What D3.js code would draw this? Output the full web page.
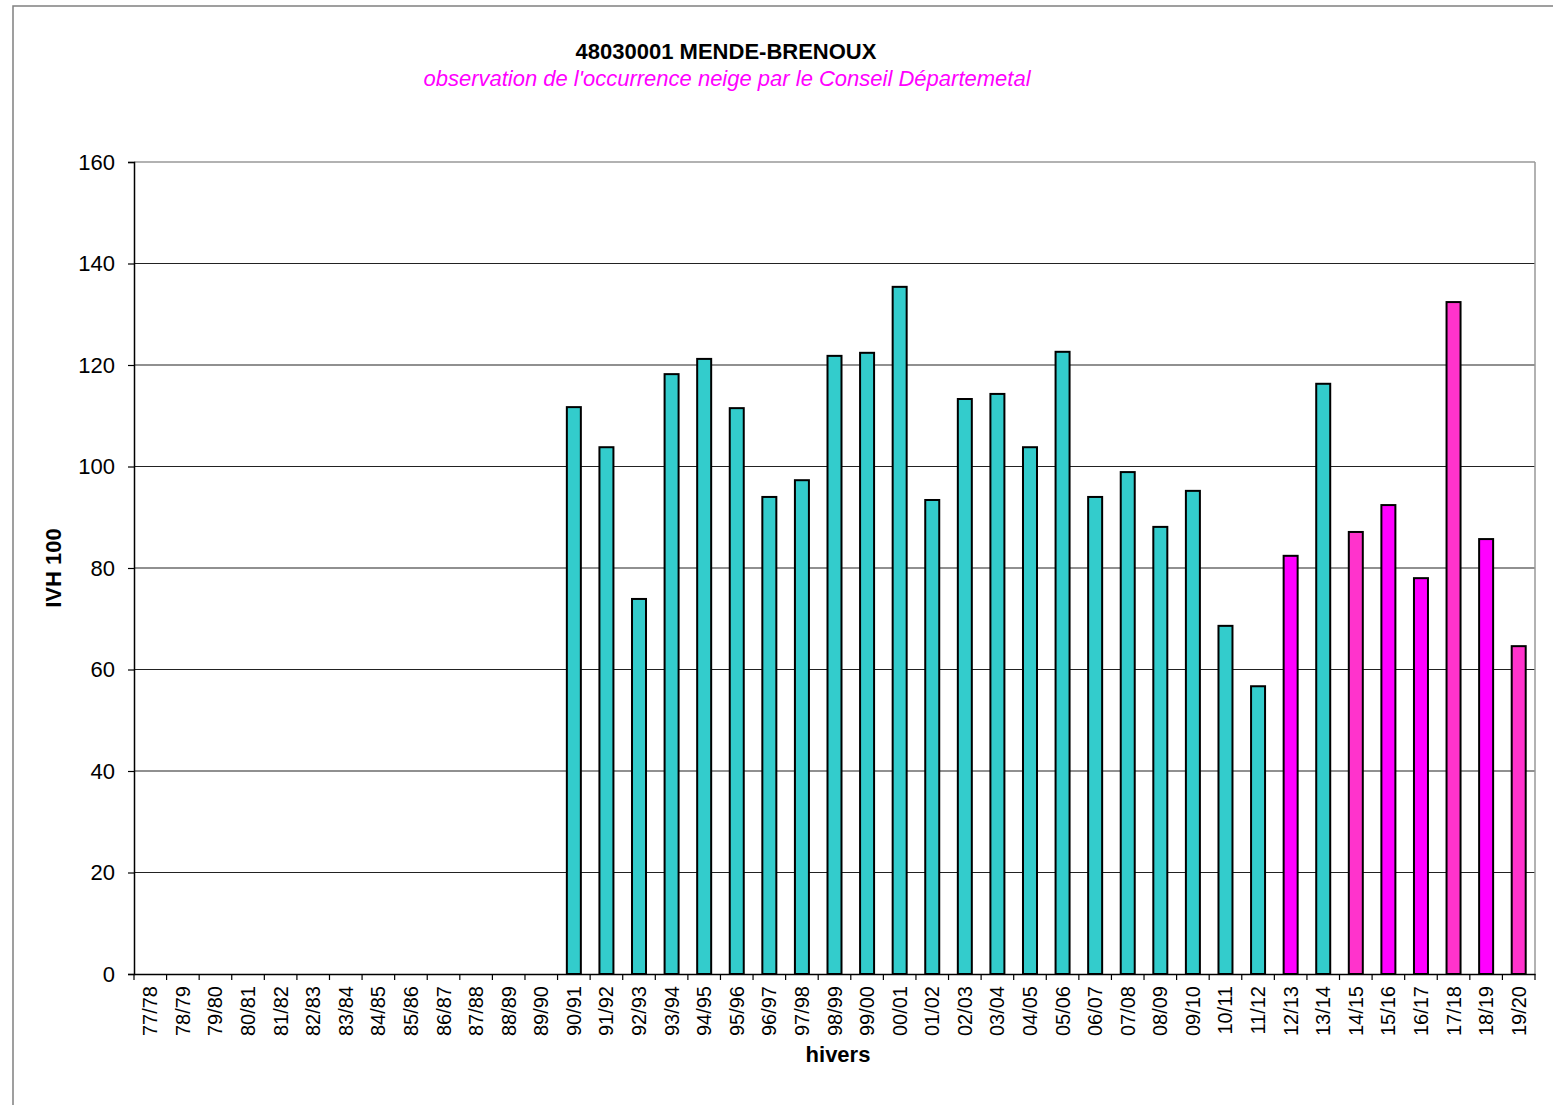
<!DOCTYPE html>
<html><head><meta charset="utf-8">
<script src="https://cdn.jsdelivr.net/npm/d3@7"></script>
<style>body{margin:0;background:#fff}svg{display:block}text{font-family:"Liberation Sans",Arial,sans-serif}</style>
</head><body>
<svg id="c" width="1553" height="1105"></svg>
<script>
const categories = ["77/78","78/79","79/80","80/81","81/82","82/83","83/84","84/85","85/86","86/87","87/88","88/89","89/90","90/91","91/92","92/93","93/94","94/95","95/96","96/97","97/98","98/99","99/00","00/01","01/02","02/03","03/04","04/05","05/06","06/07","07/08","08/09","09/10","10/11","11/12","12/13","13/14","14/15","15/16","16/17","17/18","18/19","19/20"];
const values = [null,null,null,null,null,null,null,null,null,null,null,null,null,111.7,103.8,73.9,118.2,121.2,111.5,94.0,97.3,121.8,122.4,135.4,93.4,113.3,114.3,103.8,122.6,94.0,98.9,88.1,95.2,68.6,56.7,82.4,116.3,87.1,92.4,78.0,132.4,85.7,64.6];
const sourceType = ["","","","","","","","","","","","","","a","a","a","a","a","a","a","a","a","a","a","a","a","a","a","a","a","a","a","a","a","a","b","a","c","b","b","c","b","c"];
const yTicks = [0,20,40,60,80,100,120,140,160];
const colors = {a:"#33CCCC", b:"#FF00FF", c:"#FF33CC"};

const svg = d3.select("#c");
const L=134, R=1535, T=162, B=974;
// outer frame
svg.append("rect").attr("x",13).attr("y",6).attr("width",1600).attr("height",1200)
  .attr("fill","none").attr("stroke","#808080").attr("stroke-width",1.5);

const x = d3.scaleBand().domain(categories).range([L,R]).padding(0);
const y = d3.scaleLinear().domain([0,160]).range([B,T]);

// gridlines
svg.append("g").selectAll("line").data(yTicks.filter(d=>d>0 && d<160)).join("line")
  .attr("x1",L).attr("x2",R).attr("y1",d=>y(d)).attr("y2",d=>y(d))
  .attr("stroke","#222").attr("stroke-width",1.2);
// plot border top/right
svg.append("line").attr("x1",L).attr("x2",R).attr("y1",T).attr("y2",T).attr("stroke","#999").attr("stroke-width",1.5);
svg.append("line").attr("x1",R).attr("x2",R).attr("y1",T).attr("y2",B).attr("stroke","#999").attr("stroke-width",1.5);

// bars
const bw = 14;
svg.append("g").selectAll("rect").data(categories.map((c,i)=>({c,v:values[i],t:sourceType[i]})).filter(d=>d.v!=null))
  .join("rect")
  .attr("x",d=>x(d.c)+x.bandwidth()/2-bw/2).attr("width",bw)
  .attr("y",d=>y(d.v)).attr("height",d=>B-y(d.v))
  .attr("fill",d=>colors[d.t]).attr("stroke","#000").attr("stroke-width",2);

// y axis
const ya = d3.axisLeft(y).tickValues(yTicks).tickSize(6).tickPadding(13).tickFormat(d3.format("d"));
const gy = svg.append("g").attr("transform",`translate(${L},0)`).call(ya);
gy.select(".domain").attr("stroke","#000").attr("stroke-width",1.5);
gy.selectAll(".tick line").attr("stroke","#000").attr("stroke-width",1.2);
gy.selectAll("text").attr("font-size",22).attr("fill","#000").attr("font-family","Liberation Sans, Arial, sans-serif");

// x axis
const xa = d3.axisBottom(x).tickSize(0).tickPadding(0);
const gx = svg.append("g").attr("transform",`translate(0,${B})`).call(xa);
gx.select(".domain").attr("stroke","#000").attr("stroke-width",1.5);
gx.selectAll(".tick text").attr("font-size",20).attr("fill","#000").attr("font-family","Liberation Sans, Arial, sans-serif")
  .attr("transform","rotate(-90)").attr("text-anchor","end").attr("x",-12).attr("y",0).attr("dy","0.35em");
// boundary ticks
svg.append("g").selectAll("line").data(d3.range(categories.length+1)).join("line")
  .attr("x1",i=>L+i*x.bandwidth()).attr("x2",i=>L+i*x.bandwidth())
  .attr("y1",B).attr("y2",B+6).attr("stroke","#000").attr("stroke-width",1.2);

// titles
svg.append("text").attr("x",726).attr("y",59).attr("text-anchor","middle").attr("font-size",22).attr("font-weight","bold").text("48030001 MENDE-BRENOUX");
svg.append("text").attr("x",727).attr("y",86).attr("text-anchor","middle").attr("font-size",22).attr("font-style","italic").attr("fill","#FF00FF").text("observation de l'occurrence neige par le Conseil Départemetal");
svg.append("text").attr("x",838).attr("y",1062).attr("text-anchor","middle").attr("font-size",22).attr("font-weight","bold").text("hivers");
svg.append("text").attr("transform","translate(61,568) rotate(-90)").attr("text-anchor","middle").attr("font-size",22).attr("font-weight","bold").text("IVH 100");
</script>
</body></html>
